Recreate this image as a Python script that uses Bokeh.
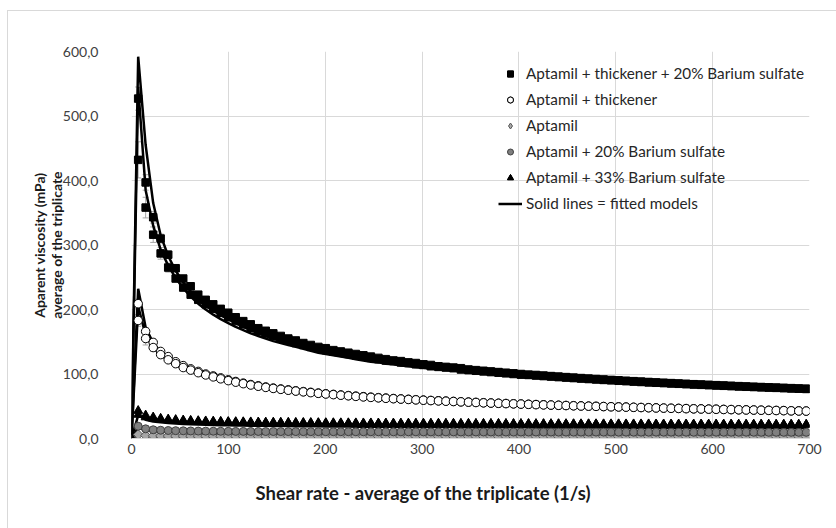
from bokeh.plotting import figure
from bokeh.models import (FixedTicker, Legend, LegendItem, Title, Whisker,
                          ColumnDataSource, TeeHead, Range1d)
from bokeh.embed import file_html
from bokeh.resources import INLINE
import math

# ---------------- data ----------------
shear_rate = [0, 6.9, 14.6, 22.4, 30.1, 37.9, 45.6, 53.4, 61.1, 68.9,
              76.6, 84.4, 92.1, 99.9, 107.6, 115.4, 123.1, 130.9, 138.6, 146.4,
              154.1, 161.9, 169.6, 177.4, 185.1, 192.9, 200.6, 208.4, 216.1, 223.9,
              231.6, 239.4, 247.1, 254.9, 262.6, 270.4, 278.1, 285.9, 293.6, 301.4,
              309.1, 316.9, 324.6, 332.4, 340.1, 347.9, 355.6, 363.4, 371.1, 378.9,
              386.6, 394.4, 402.1, 409.9, 417.6, 425.4, 433.1, 440.9, 448.6, 456.4,
              464.1, 471.9, 479.6, 487.4, 495.1, 502.9, 510.6, 518.4, 526.1, 533.9,
              541.6, 549.4, 557.1, 564.9, 572.6, 580.4, 588.1, 595.9, 603.6, 611.4,
              619.1, 626.9, 634.6, 642.4, 650.1, 657.9, 665.6, 673.4, 681.1, 688.9,
              696.6]

# Aptamil + thickener + 20% Barium sulfate (two replicate ramps)
thick_ba20_a = [0, 527, 397, 343, 310, 285, 264, 248, 236, 223,
                215, 208, 201, 195, 188, 182, 177, 171, 167, 163,
                159, 155, 152, 148, 145, 142, 140, 137, 135, 133,
                131, 129, 127, 125, 123, 121, 120, 118, 117, 115,
                114, 112, 111, 110, 109, 107, 106, 105, 104, 103,
                102, 101, 100, 99, 98.5, 97.6, 96.8, 96, 95.2, 94.4,
                93.7, 92.9, 92.2, 91.5, 90.8, 90.2, 89.5, 88.9, 88.2, 87.6,
                87, 86.4, 85.9, 85.3, 84.8, 84.2, 83.7, 83.2, 82.7, 82.2,
                81.7, 81.2, 80.7, 80.2, 79.8, 79.3, 78.9, 78.5, 78.1, 77.6,
                77.2]
thick_ba20_b = [0, 432, 358, 316, 287, 265, 248, 234, 223, 215,
                208, 201, 195, 188, 182, 177, 171, 167, 163, 159,
                155, 152, 148, 145, 142, 140, 137, 135, 133, 131,
                129, 127, 125, 123, 121, 120, 118, 117, 115, 114,
                112, 111, 110, 109, 107, 106, 105, 104, 103, 102,
                101, 100, 99, 98.5, 97.6, 96.8, 96, 95.2, 94.4, 93.7,
                92.9, 92.2, 91.5, 90.8, 90.2, 89.5, 88.9, 88.2, 87.6, 87,
                86.4, 85.9, 85.3, 84.8, 84.2, 83.7, 83.2, 82.7, 82.2, 81.7,
                81.2, 80.7, 80.2, 79.8, 79.3, 78.9, 78.5, 78.1, 77.6, 77.2,
                76.8]
thick_ba20_fit_a = [0, 592, 455, 365, 315, 283, 260, 242, 228, 215,
                    206, 198, 191, 185, 179, 173, 168, 163, 159, 155,
                    151, 148, 144, 141, 138, 135, 132, 130, 128, 126,
                    124, 122, 120, 119, 117, 116, 114, 113, 111.5, 110,
                    109, 108, 107, 106, 105, 104, 103, 102, 101, 100,
                    99.2, 98.4, 97.5, 96.7, 95.9, 95.1, 94.4, 93.7, 93, 92.3,
                    91.7, 91.1, 90.5, 89.9, 89.2, 88.5, 87.9, 87.4, 86.8, 86.3,
                    85.7, 85.2, 84.7, 84.2, 83.7, 83.2, 82.8, 82.3, 81.9, 81.5,
                    81.1, 80.6, 80.2, 79.8, 79.4, 79, 78.6, 78.2, 77.8, 77.4,
                    77]
thick_ba20_fit_b = [0, 545, 385, 330, 293, 268, 249, 233, 220, 209,
                    200, 192, 185, 179, 173, 168, 163, 159, 155, 151,
                    148, 145, 142, 139, 136, 133, 131, 129, 127, 125,
                    123, 121, 119, 118, 116, 115, 113, 112, 111, 109.5,
                    108.5, 107.5, 106.5, 105.5, 104.5, 103.5, 102.5, 101.5, 100.5, 99.5,
                    98.7, 97.9, 97, 96.2, 95.4, 94.6, 93.9, 93.2, 92.5, 91.8,
                    91.2, 90.6, 90, 89.4, 88.7, 88, 87.4, 86.9, 86.3, 85.8,
                    85.2, 84.7, 84.2, 83.7, 83.2, 82.7, 82.3, 81.8, 81.4, 81,
                    80.6, 80.1, 79.7, 79.3, 78.9, 78.5, 78.1, 77.7, 77.3, 76.9,
                    76.5]

# Aptamil + thickener
thick_a = [0, 209, 166, 149, 135, 127, 119, 113, 108, 104,
           100, 97, 94, 91, 88.4, 85.9, 83.7, 81.7, 79.9, 78.2,
           76.8, 75.4, 74, 72.8, 71.6, 70.5, 69.4, 68.4, 67.5, 66.6,
           65.7, 64.9, 64.1, 63.4, 62.7, 62, 61.4, 60.8, 60.2, 59.6,
           59, 58.5, 58, 57.5, 57, 56.5, 56, 55.5, 55.1, 54.7,
           54.3, 53.9, 53.5, 53.1, 52.7, 52.3, 51.9, 51.6, 51.2, 50.9,
           50.6, 50.2, 49.9, 49.6, 49.3, 49, 48.7, 48.4, 48.1, 47.8,
           47.5, 47.2, 46.9, 46.7, 46.4, 46.1, 45.9, 45.6, 45.4, 45.1,
           44.9, 44.6, 44.4, 44.2, 43.9, 43.7, 43.5, 43.3, 43, 42.8,
           42.6]
thick_b = [0, 183, 155, 141, 130, 122, 116, 110, 106, 102,
           98.5, 95.5, 92.5, 89.7, 87.3, 85, 82.9, 81, 79.2, 77.6,
           76.2, 74.8, 73.5, 72.3, 71.1, 70, 69, 68, 67.1, 66.2,
           65.3, 64.5, 63.7, 63, 62.3, 61.7, 61.1, 60.5, 59.9, 59.3,
           58.8, 58.3, 57.8, 57.3, 56.8, 56.3, 55.8, 55.3, 54.9, 54.5,
           54.1, 53.7, 53.3, 52.9, 52.5, 52.1, 51.8, 51.4, 51.1, 50.7,
           50.4, 50.1, 49.8, 49.5, 49.2, 48.9, 48.6, 48.3, 48, 47.7,
           47.4, 47.1, 46.8, 46.6, 46.3, 46, 45.8, 45.5, 45.3, 45,
           44.8, 44.5, 44.3, 44.1, 43.8, 43.6, 43.4, 43.2, 42.9, 42.7,
           42.5]
thick_fit_a = [0, 232, 172, 148, 134, 124, 116, 110, 105, 101,
               97, 94, 91, 88.5, 86, 84, 82, 80, 78.4, 76.9,
               75.5, 74.1, 72.9, 71.7, 70.6, 69.5, 68.5, 67.5, 66.6, 65.7,
               64.9, 64.1, 63.3, 62.6, 61.9, 61.2, 60.6, 60, 59.4, 58.8,
               58.3, 57.8, 57.3, 56.8, 56.3, 55.8, 55.4, 54.9, 54.5, 54.1,
               53.7, 53.3, 52.9, 52.5, 52.2, 51.8, 51.5, 51.1, 50.8, 50.5,
               50.2, 49.9, 49.6, 49.3, 49, 48.7, 48.4, 48.2, 47.9, 47.6,
               47.4, 47.1, 46.9, 46.6, 46.4, 46.2, 45.9, 45.7, 45.5, 45.3,
               45, 44.8, 44.6, 44.4, 44.2, 44, 43.8, 43.6, 43.4, 43.2,
               43]
thick_fit_b = [0, 205, 160, 141, 130, 121, 114, 108.5, 104, 100,
               96.3, 93.3, 90.4, 88, 85.6, 83.6, 81.6, 79.7, 78.1, 76.6,
               75.2, 73.8, 72.6, 71.4, 70.3, 69.2, 68.2, 67.2, 66.3, 65.4,
               64.6, 63.8, 63, 62.3, 61.6, 60.9, 60.3, 59.7, 59.1, 58.5,
               58, 57.5, 57, 56.5, 56, 55.5, 55.1, 54.6, 54.2, 53.8,
               53.4, 53, 52.6, 52.2, 51.9, 51.5, 51.2, 50.8, 50.5, 50.2,
               49.9, 49.6, 49.3, 49, 48.7, 48.4, 48.1, 47.9, 47.6, 47.3,
               47.1, 46.8, 46.6, 46.3, 46.1, 45.9, 45.6, 45.4, 45.2, 45,
               44.7, 44.5, 44.3, 44.1, 43.9, 43.7, 43.5, 43.3, 43.1, 42.9,
               42.7]

# Aptamil
aptamil = [0, 6, 4.6, 4.2, 4, 3.9, 3.8, 3.8, 3.7, 3.7,
           3.7, 3.6, 3.6, 3.6, 3.6, 3.5, 3.5, 3.5, 3.5, 3.5,
           3.5, 3.5, 3.4, 3.4, 3.4, 3.4, 3.4, 3.4, 3.4, 3.4,
           3.4, 3.4, 3.3, 3.3, 3.3, 3.3, 3.3, 3.3, 3.3, 3.3,
           3.3, 3.3, 3.3, 3.3, 3.3, 3.2, 3.2, 3.2, 3.2, 3.2,
           3.2, 3.2, 3.2, 3.2, 3.2, 3.2, 3.2, 3.2, 3.2, 3.2,
           3.2, 3.1, 3.1, 3.1, 3.1, 3.1, 3.1, 3.1, 3.1, 3.1,
           3.1, 3.1, 3.1, 3.1, 3.1, 3.1, 3.1, 3.1, 3.1, 3.1,
           3.1, 3, 3, 3, 3, 3, 3, 3, 3, 3,
           3]
aptamil_fit = [0, 5, 3.9, 3.6, 3.4, 3.3, 3.2, 3.2, 3.1, 3.1,
               3.1, 3.0, 3.0, 3.0, 3.0, 3.0, 2.9, 2.9, 2.9, 2.9,
               2.9, 2.9, 2.9, 2.9, 2.9, 2.8, 2.8, 2.8, 2.8, 2.8,
               2.8, 2.8, 2.8, 2.8, 2.8, 2.8, 2.7, 2.7, 2.7, 2.7,
               2.7, 2.7, 2.7, 2.7, 2.7, 2.7, 2.7, 2.7, 2.7, 2.6,
               2.6, 2.6, 2.6, 2.6, 2.6, 2.6, 2.6, 2.6, 2.6, 2.6,
               2.6, 2.6, 2.6, 2.6, 2.6, 2.6, 2.5, 2.5, 2.5, 2.5,
               2.5, 2.5, 2.5, 2.5, 2.5, 2.5, 2.5, 2.5, 2.5, 2.5,
               2.5, 2.5, 2.5, 2.5, 2.5, 2.5, 2.5, 2.5, 2.5, 2.5,
               2.5]

# Aptamil + 20% Barium sulfate
ba20 = [0, 19, 15, 13.5, 12.8, 12.4, 12.1, 11.9, 11.7, 11.5,
        11.4, 11.3, 11.2, 11.1, 11, 11, 10.9, 10.9, 10.8, 10.8,
        10.7, 10.7, 10.7, 10.6, 10.6, 10.6, 10.5, 10.5, 10.5, 10.5,
        10.4, 10.4, 10.4, 10.4, 10.3, 10.3, 10.3, 10.3, 10.3, 10.2,
        10.2, 10.2, 10.2, 10.2, 10.1, 10.1, 10.1, 10.1, 10.1, 10.1,
        10, 10, 10, 10, 10, 10, 10, 9.9, 9.9, 9.9,
        9.9, 9.9, 9.9, 9.9, 9.9, 9.8, 9.8, 9.8, 9.8, 9.8,
        9.8, 9.8, 9.8, 9.8, 9.7, 9.7, 9.7, 9.7, 9.7, 9.7,
        9.7, 9.7, 9.7, 9.7, 9.6, 9.6, 9.6, 9.6, 9.6, 9.6,
        9.6]
ba20_fit = [0, 17, 12.5, 11.5, 11, 10.7, 10.5, 10.3, 10.2, 10.1,
            10, 9.9, 9.9, 9.8, 9.8, 9.7, 9.7, 9.7, 9.6, 9.6,
            9.6, 9.6, 9.5, 9.5, 9.5, 9.5, 9.5, 9.4, 9.4, 9.4,
            9.4, 9.4, 9.4, 9.3, 9.3, 9.3, 9.3, 9.3, 9.3, 9.3,
            9.3, 9.2, 9.2, 9.2, 9.2, 9.2, 9.2, 9.2, 9.2, 9.2,
            9.2, 9.1, 9.1, 9.1, 9.1, 9.1, 9.1, 9.1, 9.1, 9.1,
            9.1, 9.1, 9.1, 9.0, 9.0, 9.0, 9.0, 9.0, 9.0, 9.0,
            9.0, 9.0, 9.0, 9.0, 9.0, 9.0, 9.0, 8.9, 8.9, 8.9,
            8.9, 8.9, 8.9, 8.9, 8.9, 8.9, 8.9, 8.9, 8.9, 8.9,
            8.9]

# Aptamil + 33% Barium sulfate
ba33_a = [0, 43, 36, 33, 31, 29.8, 29, 28.3, 27.8, 27.3,
          26.9, 26.6, 26.3, 26, 25.8, 25.6, 25.4, 25.2, 25, 24.9,
          24.8, 24.7, 24.6, 24.5, 24.4, 24.3, 24.2, 24.1, 24, 24,
          23.9, 23.8, 23.8, 23.7, 23.6, 23.6, 23.5, 23.5, 23.4, 23.4,
          23.3, 23.3, 23.2, 23.2, 23.1, 23.1, 23, 23, 23, 22.9,
          22.9, 22.8, 22.8, 22.8, 22.7, 22.7, 22.7, 22.6, 22.6, 22.6,
          22.5, 22.5, 22.5, 22.4, 22.4, 22.4, 22.3, 22.3, 22.3, 22.3,
          22.2, 22.2, 22.2, 22.1, 22.1, 22.1, 22.1, 22, 22, 22,
          22, 21.9, 21.9, 21.9, 21.9, 21.8, 21.8, 21.8, 21.8, 21.7,
          21.7]
ba33_b = [0, 37, 33, 31, 29.5, 28.5, 27.8, 27.2, 26.7, 26.3,
          26, 25.7, 25.4, 25.2, 25, 24.8, 24.6, 24.5, 24.4, 24.3,
          24.2, 24.1, 24, 23.9, 23.8, 23.7, 23.6, 23.5, 23.5, 23.4,
          23.4, 23.3, 23.3, 23.2, 23.2, 23.1, 23.1, 23, 23, 22.9,
          22.9, 22.9, 22.8, 22.8, 22.7, 22.7, 22.7, 22.6, 22.6, 22.6,
          22.5, 22.5, 22.5, 22.4, 22.4, 22.4, 22.3, 22.3, 22.3, 22.2,
          22.2, 22.2, 22.2, 22.1, 22.1, 22.1, 22, 22, 22, 22,
          21.9, 21.9, 21.9, 21.9, 21.8, 21.8, 21.8, 21.8, 21.7, 21.7,
          21.7, 21.7, 21.6, 21.6, 21.6, 21.6, 21.5, 21.5, 21.5, 21.5,
          21.4]
ba33_fit = [0, 36, 29, 26.5, 25, 24, 23.2, 22.6, 22.1, 21.7,
            21.3, 21, 20.7, 20.5, 20.3, 20.1, 19.9, 19.7, 19.6, 19.4,
            19.3, 19.2, 19.1, 19, 18.9, 18.8, 18.7, 18.6, 18.5, 18.5,
            18.4, 18.3, 18.3, 18.2, 18.1, 18.1, 18, 18, 17.9, 17.9,
            17.8, 17.8, 17.7, 17.7, 17.6, 17.6, 17.5, 17.5, 17.5, 17.4,
            17.4, 17.3, 17.3, 17.3, 17.2, 17.2, 17.2, 17.1, 17.1, 17.1,
            17, 17, 17, 16.9, 16.9, 16.9, 16.8, 16.8, 16.8, 16.8,
            16.7, 16.7, 16.7, 16.6, 16.6, 16.6, 16.6, 16.5, 16.5, 16.5,
            16.5, 16.4, 16.4, 16.4, 16.4, 16.3, 16.3, 16.3, 16.3, 16.2,
            16.2]

# error bars (standard deviation of the triplicate) on the first points
err_thick_ba20_a = [0, 18, 12, 9, 7, 6, 5, 4, 3, 3]
err_thick_ba20_b = [0, 28, 16, 12, 9, 7, 5, 4, 3, 3]
err_thick_a = [0, 7, 6, 5, 4, 3, 3, 2, 2, 2]
err_thick_b = [0, 9, 10, 6, 5, 4, 3, 2, 2, 2]

x_ticks = [0, 100, 200, 300, 400, 500, 600, 700]
y_ticks = [0, 100, 200, 300, 400, 500, 600]
y_tick_labels = ["0,0", "100,0", "200,0", "300,0", "400,0", "500,0", "600,0"]

legend_labels = ["Aptamil + thickener + 20% Barium sulfate",
                 "Aptamil + thickener",
                 "Aptamil",
                 "Aptamil + 20% Barium sulfate",
                 "Aptamil + 33% Barium sulfate",
                 "Solid lines = fitted models"]
x_title = "Shear rate - average of the triplicate (1/s)"
y_title_1 = "Aparent viscosity (mPa)"
y_title_2 = "average of the triplicate"

# ---------------- figure ----------------
FONT = "Lato"
GRID = "#d9d9d9"

p = figure(width=829, height=518, x_range=Range1d(0, 700), y_range=Range1d(0, 600),
           output_backend="svg", toolbar_location=None,
           min_border_left=123, min_border_right=28, min_border_top=40, min_border_bottom=91)
p.margin = (10, 0, 0, 7)
p.styles = {"border-left": "1px solid #d9d9d9", "border-top": "1px solid #d9d9d9"}
p.outline_line_color = None
p.background_fill_color = "white"
p.border_fill_color = "white"

p.xgrid.grid_line_color = GRID
p.ygrid.grid_line_color = GRID
p.xaxis.ticker = FixedTicker(ticks=x_ticks)
p.yaxis.ticker = FixedTicker(ticks=y_ticks)
p.yaxis.major_label_overrides = {t: s for t, s in zip(y_ticks, y_tick_labels)}
p.xaxis.major_label_overrides = {t: str(t) for t in x_ticks}
for ax in (p.xaxis, p.yaxis):
    ax.major_tick_in = 0
    ax.major_tick_out = 0
    ax.minor_tick_line_color = None
    ax.major_label_text_font = FONT
    ax.major_label_text_font_size = "14px"
    ax.major_label_text_color = "#404040"
p.yaxis.axis_line_color = None
p.xaxis.axis_line_color = GRID
p.yaxis.major_label_standoff = 33
p.xaxis.major_label_standoff = 5

# two-line y title
p.yaxis.axis_label = y_title_1 + "\n" + y_title_2
p.yaxis.axis_label_standoff = -5
p.yaxis.axis_label_text_line_height = 1.0
p.yaxis.axis_label_text_font = FONT
p.yaxis.axis_label_text_font_size = "14px"
p.yaxis.axis_label_text_font_style = "bold"
p.yaxis.axis_label_text_color = "#1a1a1a"
p.add_layout(Title(text=x_title, align="left", offset=124, text_font=FONT, text_font_size="18.5px",
                   text_font_style="bold", text_color="#1a1a1a", standoff=46), "below")

# error bars
for vals, errs in ((thick_ba20_a, err_thick_ba20_a), (thick_ba20_b, err_thick_ba20_b),
                   (thick_a, err_thick_a), (thick_b, err_thick_b)):
    n = len(errs)
    src = ColumnDataSource(dict(base=shear_rate[:n],
                                lower=[v - e for v, e in zip(vals[:n], errs)],
                                upper=[v + e for v, e in zip(vals[:n], errs)]))
    p.add_layout(Whisker(source=src, base="base", lower="lower", upper="upper",
                         line_color="#a6a6a6", line_width=1,
                         upper_head=TeeHead(size=6, line_color="#a6a6a6"),
                         lower_head=TeeHead(size=6, line_color="#a6a6a6")))

# fitted model lines
fit_lines = []
for ys in (thick_ba20_fit_a, thick_ba20_fit_b, thick_fit_a, thick_fit_b,
           aptamil_fit, ba20_fit, ba33_fit):
    fit_lines.append(p.line(shear_rate, ys, line_color="black", line_width=2.5))

# markers
r_sq = [p.scatter(shear_rate, ys, marker="square", size=7.5, fill_color="black",
                  line_color="black") for ys in (thick_ba20_a, thick_ba20_b)]
r_ci = [p.scatter(shear_rate, ys, marker="circle", size=8.5, fill_color="white",
                  line_color="black", line_width=1) for ys in (thick_a, thick_b)]
p.scatter(shear_rate, aptamil, marker="square", angle=math.pi / 4, size=7,
          fill_color="#a6a6a6", line_color="#595959", line_width=1)
# legend swatch for the diamond series (same style; its point lies off the chart)
r_di = [p.scatter([-100], [-100], marker="diamond", size=12, fill_color="#a6a6a6",
                  line_color="#595959", line_width=1)]
r_gc = [p.scatter(shear_rate, ba20, marker="circle", size=8, fill_color="#7f7f7f",
                  line_color="#404040", line_width=1)]
r_tr = [p.scatter(shear_rate, ys, marker="triangle", size=9, fill_color="black",
                  line_color="black") for ys in (ba33_a, ba33_b)]

legend = Legend(items=[LegendItem(label=legend_labels[0], renderers=r_sq),
                       LegendItem(label=legend_labels[1], renderers=r_ci),
                       LegendItem(label=legend_labels[2], renderers=r_di),
                       LegendItem(label=legend_labels[3], renderers=r_gc),
                       LegendItem(label=legend_labels[4], renderers=r_tr),
                       LegendItem(label=legend_labels[5], renderers=[fit_lines[0]])],
                location=(367, 225), padding=0, margin=0, spacing=6,
                glyph_height=15, label_height=20, glyph_width=24, label_standoff=4,
                border_line_color=None, background_fill_alpha=0,
                label_text_font=FONT, label_text_font_size="15.3px",
                label_text_color="#262626")
p.add_layout(legend)

open("out.html", "w").write(file_html(p, INLINE))
